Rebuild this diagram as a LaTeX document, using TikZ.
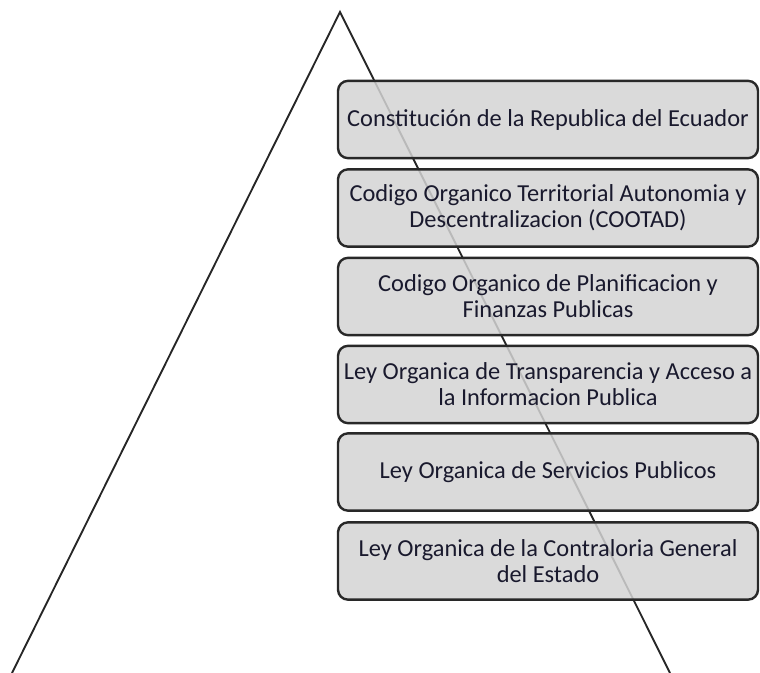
\documentclass[tikz,border=0pt]{standalone}
\usepackage{fontspec}
\setmainfont{Carlito}
\definecolor{boxfill}{RGB}{211,211,211}
\definecolor{boxline}{RGB}{40,40,40}
\definecolor{txt}{RGB}{25,25,45}
\begin{document}
\begin{tikzpicture}[x=0.75pt,y=-0.75pt,
  tri/.style={draw=black!85,line width=1.4pt},
  lawbox/.style={draw=boxline,line width=1.8pt,fill=boxfill,fill opacity=0.85,text opacity=1,
    rounded corners=7.5pt,minimum width=315pt,minimum height=58pt,
    align=center,text=txt,font=\fontsize{18.3}{19.6}\selectfont,inner sep=0pt}]
\useasboundingbox (0,0) rectangle (760,673);
\coordinate (apex) at (340,12);
\coordinate (bl) at (12,673);
\coordinate (br) at (670,673);
\draw[tri] (bl) -- (apex) -- (br);
\node[lawbox] (b1) at (548,119.5) {Constitución de la Republica del Ecuador};
\node[lawbox] (b2) at (548,208) {Codigo Organico Territorial Autonomia y\\Descentralizacion (COOTAD)};
\node[lawbox] (b3) at (548,296.5) {Codigo Organico de Planificacion y\\Finanzas Publicas};
\node[lawbox] (b4) at (548,384.5) {Ley Organica de Transparencia y Acceso a\\la Informacion Publica};
\node[lawbox] (b5) at (548,472) {Ley Organica de Servicios Publicos};
\node[lawbox] (b6) at (548,561) {Ley Organica de la Contraloria General\\del Estado};
\end{tikzpicture}
\end{document}
